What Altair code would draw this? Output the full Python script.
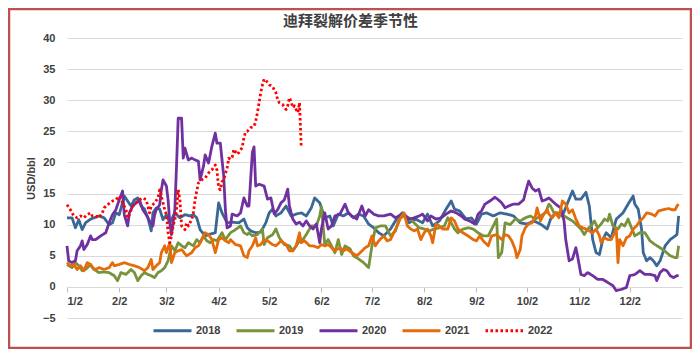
import altair as alt
import pandas as pd

YEARS = ["2018", "2019", "2020", "2021", "2022"]
COLORS = ["#3A6796", "#77933C", "#7030A0", "#E46C0A", "#FF0000"]

days_2018 = [2, 5, 7, 9, 11, 13, 16, 18, 21, 24, 27, 29, 31, 33, 36, 38, 40, 42, 44, 46,
             48, 50, 52, 53, 55, 57, 59, 61, 63, 66, 69, 72, 75, 77, 79, 81, 84, 87, 90, 92, 94,
             97, 100, 104, 107, 109, 111, 114, 117, 120, 122, 124, 126, 129, 132, 135, 138, 141, 144, 147, 149,
             152, 155, 158, 160, 163, 166, 169, 172, 175, 178, 181, 184, 187, 190,
             194, 198, 201, 205, 209, 213, 216, 219, 223, 227, 230, 232, 235, 239, 242, 245, 248, 251, 255, 259,
             263, 267, 271, 275, 279, 283, 287,
             289, 292, 296, 300, 302, 304, 307, 310, 312, 314, 316, 318, 320, 322, 325, 328, 332, 335, 338, 339,
             341, 343, 344, 346, 348, 350, 352, 354, 357, 360, 363, 364, 365]
vals_2018 = [11.1, 11.1, 9.5, 10.8, 9.2, 10.3, 10.9, 11.1, 11.4, 11.1, 10.0, 10.3, 11.9, 11.6, 14.6, 13.8, 13.0, 14.0, 14.3, 13.0,
             12.5, 11.1, 9.0, 11.9, 12.7, 12.5, 10.8, 11.6, 10.3, 11.9, 11.1, 11.6, 11.4, 11.6, 11.1, 9.2, 8.2, 8.5, 8.7, 13.5, 11.9,
             10.3, 10.4, 10.3, 10.9, 9.5, 9.0, 8.7, 8.8, 10.3, 11.9, 12.5, 11.4, 11.9, 13.0, 11.4, 11.7, 11.9, 11.4, 12.7, 14.3,
             13.5, 11.1, 11.4, 9.8, 11.7, 11.4, 11.9, 11.1, 11.7, 11.4, 10.1, 9.5, 8.7, 8.2,
             9.3, 11.1, 11.9, 10.3, 10.9, 10.3, 11.7, 9.8, 10.6, 12.5, 13.8, 12.5, 12.2, 10.9, 11.1, 10.1, 11.7, 11.9, 11.4, 11.9,
             11.7, 11.4, 10.3, 10.1, 10.6, 10.1, 9.3,
             10.9, 11.9, 11.4, 14.1, 15.4, 14.1, 14.1, 15.2, 13.0, 7.6, 5.5, 5.2, 7.6, 8.7, 7.9, 10.9, 11.9, 13.3, 14.6, 13.3,
             12.5, 9.3, 5.5, 4.2, 4.7, 4.2, 3.4, 4.2, 6.6, 7.6, 8.2, 8.4, 11.4]

days_2019 = [2, 5, 7, 9, 11, 13, 16, 18, 21, 24, 27, 30, 32, 34, 37, 40, 42, 44, 46, 48,
             50, 52, 54, 56, 58, 60, 62, 64, 66, 68, 70, 72, 74, 77, 79, 81, 83, 85, 87, 89, 91, 94,
             96, 99, 102, 105, 107, 109, 110, 112, 115, 118, 119, 121, 124, 126, 128, 131, 134, 136, 138, 140,
             142, 144, 147, 150, 152, 153, 155, 157, 159, 161, 163, 165, 167, 170, 172, 175, 178, 181, 183, 185, 188, 191,
             194, 197, 199, 202, 205, 208, 211, 214, 217, 220, 223, 226, 228, 230, 232, 234, 237, 240, 243, 246,
             249, 252, 255, 257, 258, 260, 262, 265, 268, 271, 274, 277, 280, 283, 286, 288,
             289, 291, 294, 297, 300, 302, 304, 307, 309, 311, 313, 315, 317, 319, 321, 323, 324, 326, 329, 331,
             333, 335, 337, 339, 342, 345, 348, 351, 354, 357, 360, 363, 364, 365]
vals_2019 = [3.6, 3.1, 3.9, 3.4, 2.6, 2.8, 3.6, 2.8, 2.3, 2.4, 2.3, 1.8, 1.0, 2.3, 2.0, 2.8, 2.3, 1.0, 1.8, 2.3,
             2.0, 1.8, 1.5, 2.3, 2.6, 3.1, 4.2, 6.6, 5.8, 7.1, 6.6, 6.3, 7.1, 6.6, 7.6, 7.1, 8.2, 7.4, 7.1, 7.6, 7.4, 8.7,
             7.6, 8.7, 9.2, 9.8, 8.7, 8.4, 8.7, 8.2, 8.4, 9.3, 6.8, 7.9, 8.4, 9.3, 7.9, 6.8, 6.6, 5.8, 6.6, 7.4,
             7.6, 8.4, 9.8, 9.8, 11.4, 12.9, 6.8, 7.6, 6.6, 5.5, 7.6, 5.2, 6.6, 6.1, 5.0, 4.5, 3.9, 3.1, 6.6, 9.5, 9.8, 9.8,
             8.2, 9.0, 10.9, 11.4, 11.1, 10.3, 9.5, 9.3, 9.0, 9.3, 9.5, 9.8, 11.1, 10.3, 9.3, 8.7, 9.3, 9.5, 9.3, 8.7,
             8.2, 8.2, 9.8, 10.9, 4.7, 5.5, 10.3, 10.0, 10.9, 10.6, 11.1, 11.4, 10.9, 11.4, 11.9, 13.3,
             13.0, 11.9, 11.9, 11.4, 10.9, 10.6, 10.1, 9.3, 8.4, 9.3, 9.8, 10.6, 9.5, 10.1, 10.9, 10.6, 11.7, 9.8, 9.3, 10.1,
             9.8, 10.9, 9.5, 8.2, 8.7, 8.7, 7.4, 6.8, 6.3, 5.7, 5.0, 4.7, 4.7, 6.6]

days_2020 = [2, 3, 5, 7, 8, 10, 11, 12, 14, 16, 17, 19, 22, 25, 27, 29, 31, 33, 35, 36,
             38, 39, 41, 43, 45, 47, 49, 51, 53, 54, 55, 57, 58, 59, 61, 62, 63, 64, 66, 67,
             68, 70, 71, 72, 74, 76, 78, 80, 81, 83, 84, 86, 88, 90, 91, 93, 95, 96, 97, 99,
             100, 103, 105, 107, 109, 110, 112, 113, 114, 116, 119, 121, 123, 125, 127, 129, 131, 133, 134, 136,
             138, 140, 142, 144, 146, 148, 150, 152, 153, 155, 157, 159, 161, 164, 167, 169, 171, 174, 177, 179,
             181, 184, 187, 190,
             194, 197, 199, 202, 205, 208, 211, 213, 216, 218, 221, 224, 227, 230, 233, 236, 238, 241, 244, 246,
             248, 250, 253, 256, 258, 260, 262, 264, 267, 270, 273, 274, 276, 278, 280, 282, 284, 286, 288,
             290, 292, 295, 297, 298, 300, 302, 304, 305, 307, 309, 311, 314, 317, 320, 323, 326, 328, 331, 334,
             336, 339, 342, 345, 348, 351, 352, 354, 356, 358, 360, 362, 364, 365]
vals_2020 = [6.6, 4.2, 3.9, 4.2, 5.8, 6.6, 7.4, 6.0, 6.8, 8.2, 7.6, 7.6, 8.2, 8.7, 10.3, 11.6, 12.4, 14.0, 15.4, 11.6,
             9.8, 11.9, 13.0, 13.5, 14.0, 12.4, 11.6, 10.6, 9.8, 11.6, 12.4, 13.2, 15.6, 17.2, 16.2, 14.0, 10.3, 8.4, 12.4, 19.4,
             27.1, 27.1, 20.7, 22.3, 20.4, 20.7, 20.4, 20.2, 17.2, 19.4, 21.2, 19.9, 22.6, 24.7, 23.1, 23.1, 17.8, 12.4, 9.5, 9.8,
             11.7, 11.4, 11.9, 14.3, 13.0, 13.0, 21.6, 22.5, 16.2, 16.5, 16.2, 14.1, 14.3, 11.7, 12.4, 13.5, 14.0, 15.7, 13.0, 10.9,
             10.1, 10.4, 9.8, 10.6, 9.8, 9.3, 10.1, 7.1, 9.3, 11.9, 9.3, 9.8, 11.4, 11.7, 13.3, 11.9, 11.4, 10.9, 13.0, 11.4,
             12.4, 11.7, 11.4, 11.4,
             11.7, 11.1, 11.4, 11.7, 10.9, 11.1, 11.4, 11.7, 10.6, 11.4, 10.9, 11.1, 11.7, 12.2, 11.9, 11.4, 10.9, 10.6, 10.1, 11.7,
             12.2, 13.3, 13.8, 14.4, 14.0, 13.5, 12.7, 13.0, 13.3, 13.3, 14.0, 15.1, 17.0, 15.9, 15.4, 15.7, 13.8, 14.0, 14.3,
             13.8, 13.3, 12.7, 10.6, 7.6, 4.2, 4.5, 6.3, 5.0, 2.0, 1.8, 2.3, 1.8, 1.2, 1.2, 0.7, 0.2, -0.6, -0.4, -0.1,
             1.8, 2.0, 2.6, 2.0, 2.0, 1.8, 1.0, 2.3, 2.8, 2.6, 1.8, 1.5, 1.8, 1.8]

days_2021 = [2, 4, 6, 8, 10, 12, 14, 16, 17, 19, 21, 24, 27, 29, 30, 33, 36, 39, 42, 45,
             48, 50, 52, 53, 55, 57, 58, 60, 61, 63, 64, 66, 68, 70, 73, 76, 78, 80, 82, 84,
             86, 88, 90, 92, 94, 96, 98,
             99, 102, 105, 107, 109, 110, 112, 114, 115, 117, 119, 121, 124, 126, 129, 132, 134, 136, 138, 140,
             141, 143, 146, 148, 151, 153, 155, 157, 159, 161, 164, 166, 168, 171, 174, 176, 179, 181, 183, 185,
             187, 190, 192,
             194, 197, 198, 200, 202, 204, 206, 208, 210, 212, 214, 216, 218, 219, 221, 223, 225, 228, 230, 232,
             234, 237, 240, 243, 245, 247, 249, 252, 254, 257, 260, 262, 264, 266, 268, 269, 271, 272, 274, 276,
             278, 280, 281, 283, 285, 287, 288,
             290, 292, 294, 296, 298, 300, 302, 304, 306, 308, 310, 312, 314, 316, 318, 319, 321, 323, 325, 327,
             328, 329, 330, 332, 334, 336, 338, 340, 342, 344, 346, 349, 351, 353, 356, 359, 361, 363, 364, 365]
vals_2021 = [3.9, 3.4, 3.6, 2.8, 3.4, 2.6, 3.9, 3.6, 3.1, 2.8, 3.1, 2.8, 3.1, 3.9, 3.4, 3.6, 3.9, 3.6, 3.4, 3.1,
             2.6, 3.1, 4.4, 2.8, 3.4, 3.9, 5.5, 6.6, 5.5, 7.1, 3.9, 5.5, 5.8, 6.0, 5.0, 5.5, 6.3, 6.6, 7.6, 8.7,
             8.4, 7.6, 5.5, 7.6, 7.9, 7.4, 7.1,
             7.6, 6.8, 6.6, 5.0, 4.7, 5.8, 6.6, 7.9, 6.6, 6.8, 7.6, 7.4, 6.8, 6.6, 7.4, 6.8, 5.8, 5.8, 6.6, 8.7,
             7.1, 7.4, 6.6, 6.6, 6.3, 6.8, 6.6, 6.8, 6.3, 5.8, 6.3, 5.8, 6.1, 5.5, 5.0, 5.5, 6.3, 6.6, 8.2, 6.6,
             7.4, 8.2, 7.4,
             7.6, 9.3, 9.8, 11.1, 11.9, 9.8, 9.3, 9.0, 9.3, 7.6, 8.7, 9.3, 8.2, 7.1, 10.1, 9.8, 9.3, 9.3, 11.1, 10.6,
             9.3, 8.7, 8.2, 7.6, 7.4, 8.2, 7.4, 6.6, 8.2, 8.4, 7.6, 8.4, 8.2, 7.4, 6.0, 4.7, 6.0, 8.2, 9.5, 10.1,
             10.3, 11.4, 12.7, 10.6, 11.7, 12.4, 11.7,
             11.1, 11.9, 11.1, 13.8, 13.3, 11.9, 12.4, 10.9, 9.8, 9.5, 9.3, 9.0, 8.7, 9.3, 8.2, 7.1, 7.9, 7.6, 7.6, 8.7,
             9.3, 3.9, 7.6, 6.6, 7.9, 8.2, 9.3, 9.8, 10.6, 11.1, 11.9, 11.7, 11.4, 12.2, 12.4, 12.6, 12.4, 12.4, 13.0, 13.3]

days_2022 = [2, 4, 6, 8, 10, 12, 14, 16, 17, 19, 21, 23, 24, 26, 29, 31, 33, 35, 37, 38,
             39, 41, 43, 45, 47, 49, 51, 52, 54, 56, 57, 58, 60, 61, 62, 63, 64, 65, 66, 67,
             68, 69, 70, 72, 73, 74, 76, 77, 78, 79, 80, 82, 84, 86, 88, 90, 91, 92, 93, 94,
             95, 97, 98, 99, 100, 101, 103, 104, 106, 107, 108, 109, 111, 113, 114, 115, 116, 117, 118, 119,
             120, 122, 124, 126, 127, 128, 130, 132, 133, 134, 135, 136, 137, 138, 139, 140, 141]
vals_2022 = [13.2, 12.4, 11.4, 11.1, 11.4, 11.1, 11.6, 11.9, 11.4, 11.4, 11.1, 11.9, 12.7, 13.2, 13.8, 14.0, 14.6, 13.5, 12.4, 11.1,
             11.6, 13.0, 13.5, 14.0, 14.3, 14.0, 11.9, 13.0, 13.5, 14.3, 15.6, 14.6, 12.4, 11.6, 8.7, 7.1, 8.2, 9.8, 10.8, 12.4,
             15.6, 14.0, 9.8, 9.2, 10.3, 9.8, 10.8, 11.9, 14.0, 15.4, 16.7, 17.2, 17.5, 18.3, 18.8, 19.6, 18.8, 15.9, 15.6, 16.9,
             17.2, 19.1, 20.7, 20.5, 20.8, 22.1, 21.3, 21.6, 22.4, 24.0, 24.9, 25.0, 25.6, 25.8, 26.6, 28.0, 29.6, 31.2, 32.5, 33.4,
             33.2, 32.5, 32.2, 31.2, 30.1, 29.6, 29.3, 28.5, 29.1, 30.4, 29.8, 28.8, 29.1, 28.5, 28.0, 29.6, 22.6]

MONTH_TICKS = [2, 33, 61, 92, 122, 153, 183, 214, 245, 275, 306, 336]
Y_TICKS = [-5, 0, 5, 10, 15, 20, 25, 30, 35, 40]

rows = []
for yr, ds, vs in [("2018", days_2018, vals_2018), ("2019", days_2019, vals_2019),
                   ("2020", days_2020, vals_2020), ("2021", days_2021, vals_2021),
                   ("2022", days_2022, vals_2022)]:
    for d, v in zip(ds, vs):
        rows.append({"doy": d, "value": v, "year": yr})
df = pd.DataFrame(rows)

LBL_FONT = "Liberation Sans"
TXT = "#404040"

legend_kw = dict(title=None, orient="none", legendX=85, legendY=272, direction="horizontal",
                 symbolType="stroke", symbolSize=1444, symbolStrokeWidth=3,
                 labelFont=LBL_FONT, labelFontSize=11, labelFontWeight="bold", labelColor=TXT,
                 columnPadding=9, labelOffset=3)

lines = alt.Chart(df).mark_line(strokeJoin="round", strokeWidth=2.8).encode(
    x=alt.X("doy:Q",
            scale=alt.Scale(domain=[2, 367], nice=False, zero=False),
            axis=alt.Axis(values=MONTH_TICKS,
                          labelExpr="timeFormat(datetime(2022, 0, datum.value), '%-m/%-d')",
                          offset=-31, grid=False, domainColor="#D9D9D9", tickColor="#BFBFBF",
                          tickSize=5, labelPadding=3, title=None,
                          labelFont=LBL_FONT, labelFontSize=11, labelFontWeight="bold", labelColor=TXT)),
    y=alt.Y("value:Q",
            scale=alt.Scale(domain=[-5, 40], nice=False, zero=False),
            axis=alt.Axis(values=Y_TICKS, title="USD/bbl", grid=True, gridColor="#D9D9D9",
                          domain=False, ticks=False, labelPadding=12, titlePadding=6,
                          labelFont=LBL_FONT, labelFontSize=11, labelFontWeight="bold", labelColor=TXT,
                          titleFont=LBL_FONT, titleFontSize=11, titleFontWeight="bold", titleColor=TXT)),
    color=alt.Color("year:N", scale=alt.Scale(domain=YEARS, range=COLORS), legend=alt.Legend(**legend_kw)),
    strokeDash=alt.StrokeDash("year:N",
                              scale=alt.Scale(domain=YEARS, range=[[1, 0], [1, 0], [1, 0], [1, 0], [2.5, 2.5]]),
                              legend=alt.Legend(**legend_kw)),
)

border = alt.Chart(pd.DataFrame({"k": [0]})).mark_rect(
    fillOpacity=0, stroke="#C0504D", strokeWidth=2.5
).encode(x=alt.value(-58), x2=alt.value(624), y=alt.value(-29), y2=alt.value(310))

chart = alt.layer(lines, border).properties(
    width=615, height=280,
    title=alt.Title("迪拜裂解价差季节性", font="Noto Sans CJK SC", fontSize=15, fontWeight="bold",
                    color=TXT, anchor="middle", frame="group", dx=-24, dy=21, offset=0),
    autosize=alt.AutoSizeParams(type="none"),
    padding={"left": 59, "top": 30, "right": 10, "bottom": 31},
    background="white",
).configure_view(strokeWidth=0)

chart.save("out.html", embed_options={"renderer": "svg", "actions": False})
